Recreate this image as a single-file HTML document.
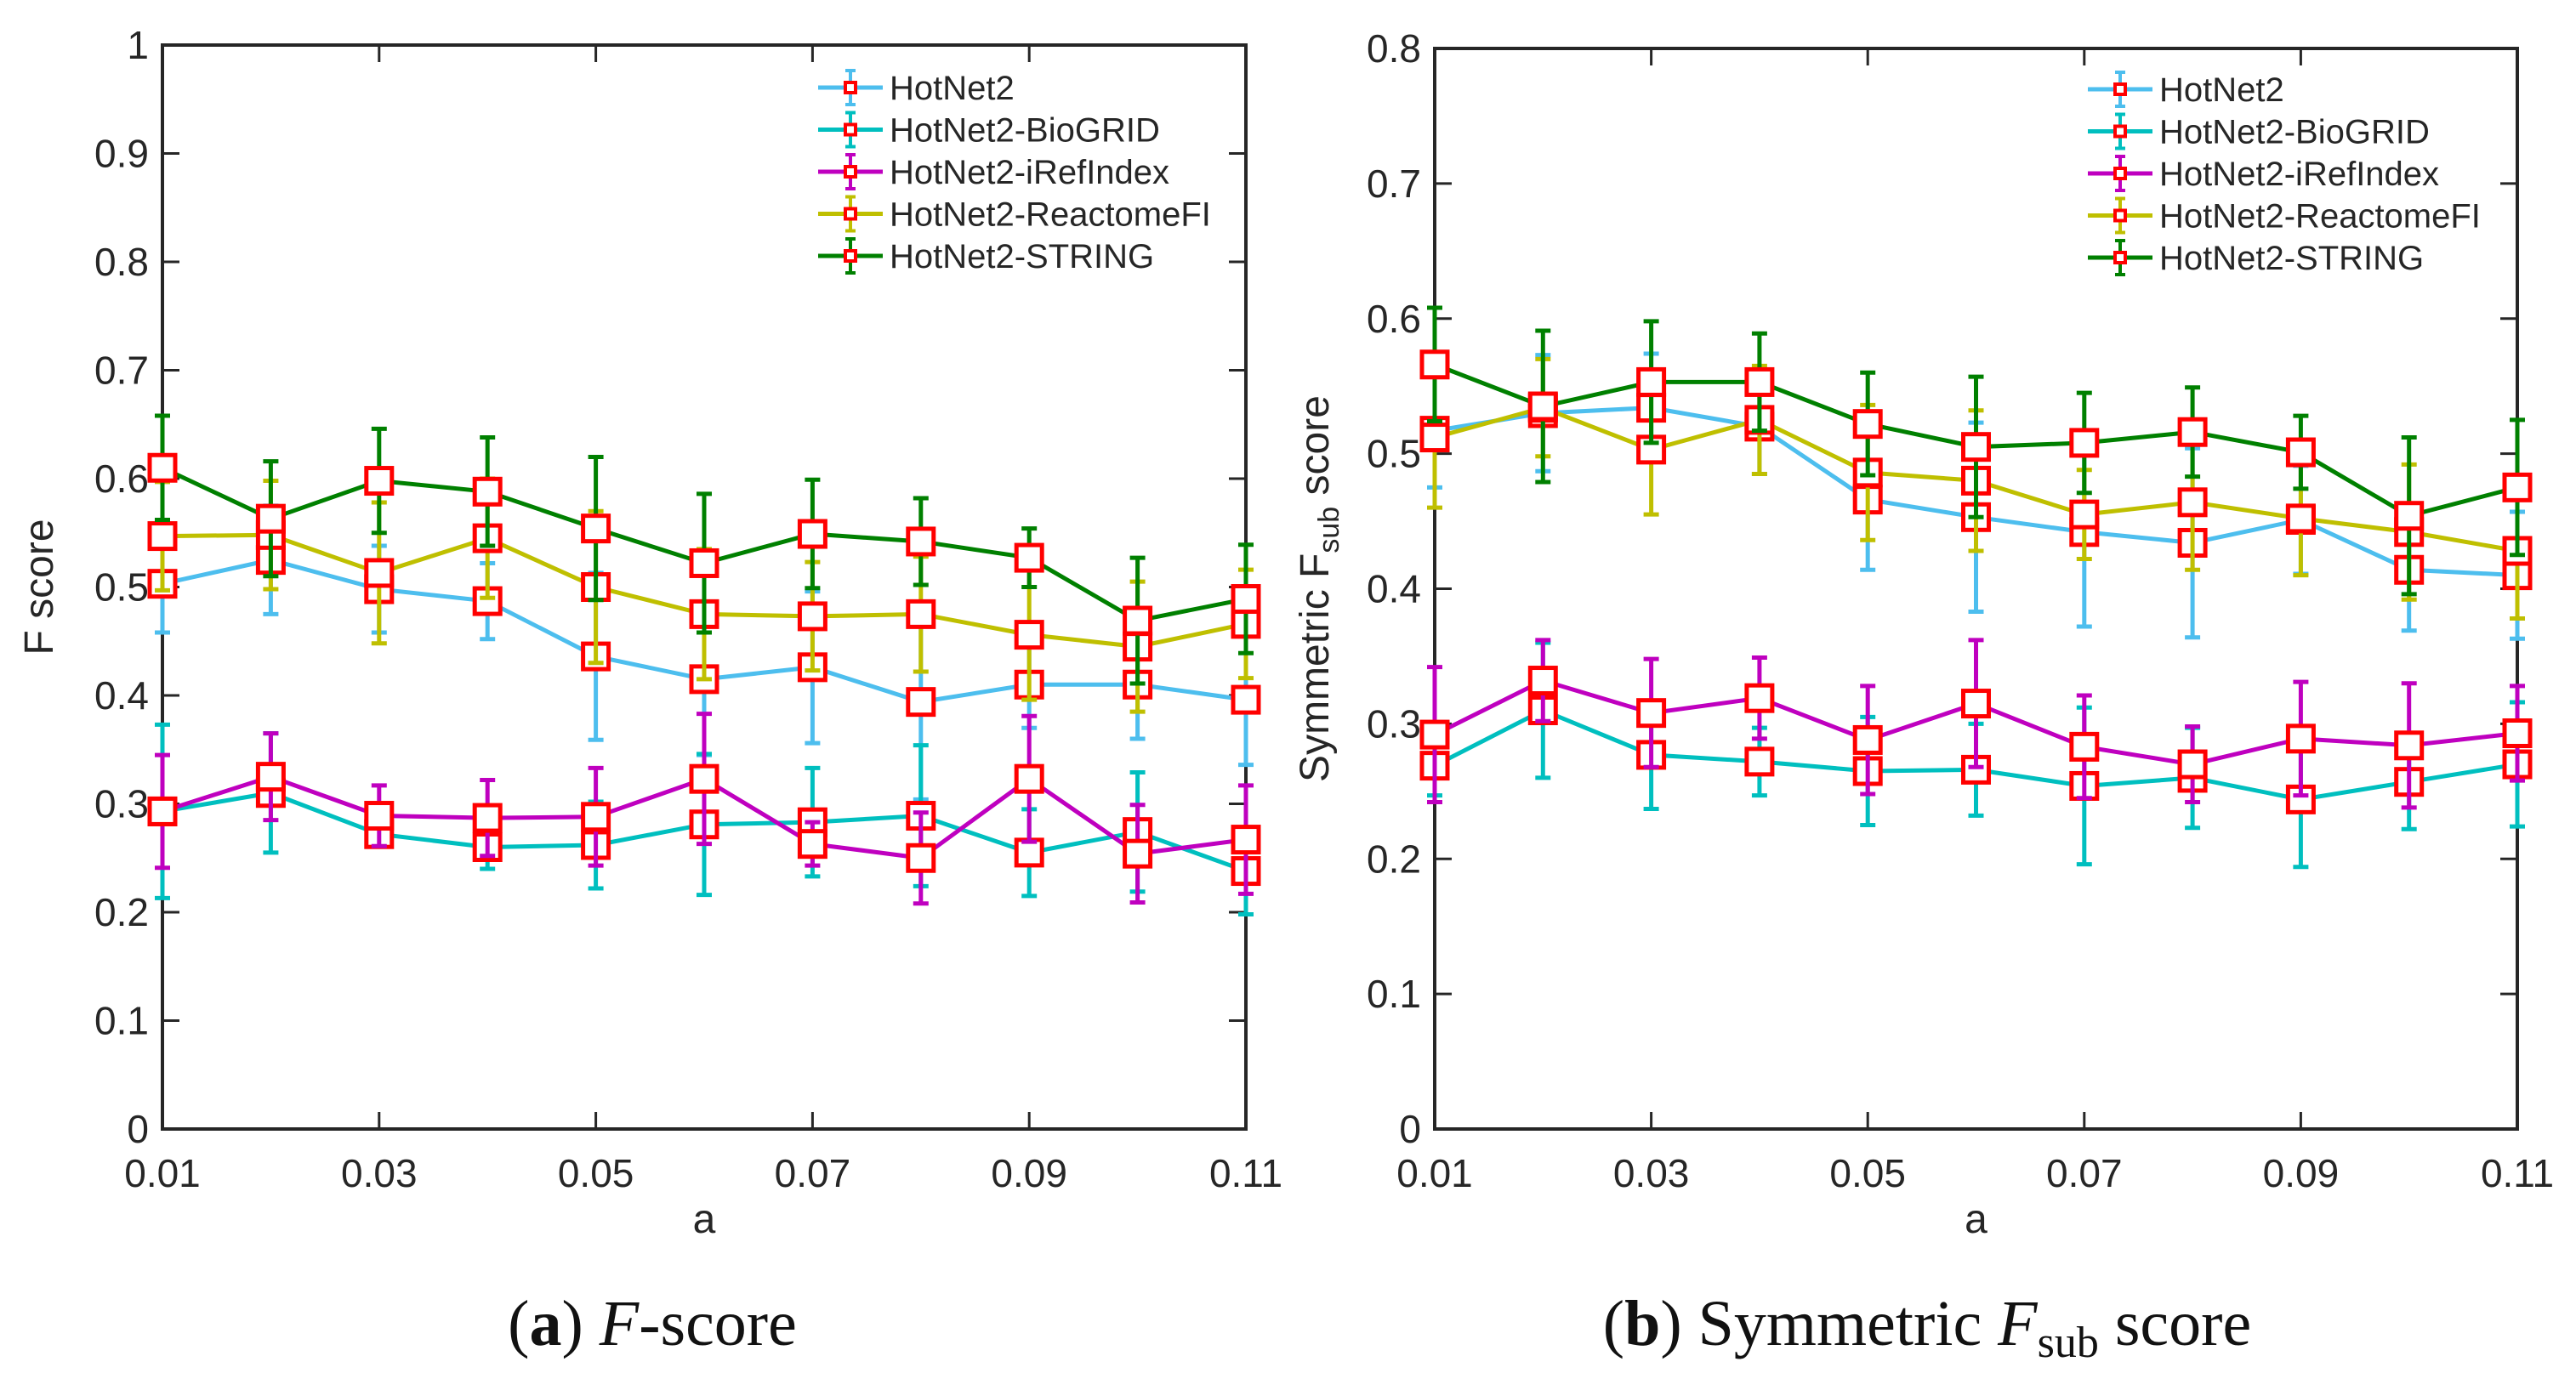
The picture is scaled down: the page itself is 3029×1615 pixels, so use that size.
<!DOCTYPE html>
<html><head><meta charset="utf-8"><style>
html,body{margin:0;padding:0;background:#fff}
svg{display:block}
</style></head><body>
<svg id="fig" width="3029" height="1615" xmlns="http://www.w3.org/2000/svg" font-family="Liberation Sans, sans-serif">
<text x="767" y="1582" text-anchor="middle" font-family="Liberation Serif, serif" font-size="76" fill="#111">(<tspan font-weight="bold">a</tspan>) <tspan font-style="italic">F</tspan>-score</text>
<text x="2266" y="1582" text-anchor="middle" font-family="Liberation Serif, serif" font-size="76" fill="#111">(<tspan font-weight="bold">b</tspan>) Symmetric <tspan font-style="italic">F</tspan><tspan font-size="52" dy="14">sub</tspan><tspan dy="-14"> score</tspan></text>
</svg>
<script>
const xVals=[0.01,0.02,0.03,0.04,0.05,0.06,0.07,0.08,0.09,0.10,0.11];
const xTicks=[0.01,0.03,0.05,0.07,0.09,0.11];
const xTickLabels=["0.01","0.03","0.05","0.07","0.09","0.11"];
const seriesNames=["HotNet2","HotNet2-BioGRID","HotNet2-iRefIndex","HotNet2-ReactomeFI","HotNet2-STRING"];
const yTicksA=[0,0.1,0.2,0.3,0.4,0.5,0.6,0.7,0.8,0.9,1];
const yTickLabelsA=["0","0.1","0.2","0.3","0.4","0.5","0.6","0.7","0.8","0.9","1"];
const yTicksB=[0,0.1,0.2,0.3,0.4,0.5,0.6,0.7,0.8];
const yTickLabelsB=["0","0.1","0.2","0.3","0.4","0.5","0.6","0.7","0.8"];
// Panel A values
const aHotNet2=[0.503,0.525,0.498,0.487,0.436,0.415,0.426,0.394,0.41,0.41,0.396];
const aHotNet2Err=[0.045,0.05,0.04,0.035,0.077,0.07,0.07,0.09,0.04,0.05,0.06];
const aBioGRID=[0.293,0.31,0.272,0.26,0.262,0.281,0.283,0.289,0.255,0.274,0.238];
const aBioGRIDErr=[0.08,0.055,0.01,0.02,0.04,0.065,0.05,0.065,0.04,0.055,0.04];
const aIRef=[0.293,0.325,0.289,0.287,0.288,0.323,0.263,0.25,0.323,0.254,0.267];
const aIRefErr=[0.052,0.04,0.028,0.035,0.045,0.06,0.02,0.042,0.058,0.045,0.05];
const aReactome=[0.547,0.548,0.513,0.545,0.5,0.475,0.473,0.475,0.456,0.445,0.466];
const aReactomeErr=[0.05,0.05,0.065,0.055,0.07,0.06,0.05,0.053,0.06,0.06,0.05];
const aString=[0.61,0.563,0.598,0.588,0.554,0.522,0.549,0.542,0.527,0.469,0.489];
const aStringErr=[0.048,0.053,0.048,0.05,0.066,0.064,0.05,0.04,0.027,0.058,0.05];
// Panel B values
const bHotNet2=[0.517,0.53,0.534,0.52,0.466,0.453,0.442,0.434,0.451,0.414,0.41];
const bHotNet2Err=[0.042,0.043,0.04,0.035,0.052,0.07,0.07,0.07,0.04,0.045,0.047];
const bBioGRID=[0.269,0.31,0.277,0.272,0.265,0.266,0.254,0.26,0.244,0.257,0.27];
const bBioGRIDErr=[0.022,0.05,0.04,0.025,0.04,0.034,0.058,0.037,0.05,0.035,0.046];
const bIRef=[0.292,0.332,0.308,0.319,0.288,0.315,0.283,0.27,0.289,0.284,0.293];
const bIRefErr=[0.05,0.03,0.04,0.03,0.04,0.047,0.038,0.028,0.042,0.046,0.035];
const bReactome=[0.512,0.534,0.503,0.525,0.486,0.48,0.455,0.464,0.452,0.442,0.428];
const bReactomeErr=[0.052,0.036,0.048,0.04,0.05,0.052,0.033,0.05,0.042,0.05,0.05];
const bString=[0.566,0.535,0.553,0.553,0.522,0.505,0.508,0.516,0.501,0.454,0.475];
const bStringErr=[0.042,0.056,0.045,0.036,0.038,0.052,0.037,0.033,0.027,0.058,0.05];

const colors=["#4DBEEE","#00BFBF","#BF00BF","#BFBF00","#008000"];
const NS="http://www.w3.org/2000/svg";
const svg=document.getElementById('fig');
function mk(tag,attrs,parent){const e=document.createElementNS(NS,tag);for(const k in attrs)e.setAttribute(k,attrs[k]);(parent||svg).appendChild(e);return e;}

function panel(id,L,R,T,B,yMax,yTicks,yLabels,series,errs,yTitle,legX,legY){
  const g=mk('g',{});
  
  
  const sx=v=>L+(v-0.01)/0.10*(R-L);
  const sy=v=>B-v/yMax*(B-T);
  yTicks.forEach((t,i)=>{
    const y=sy(t);
    const l1=mk('line',{x1:L,x2:L+20,y1:y,y2:y,stroke:'#262626','stroke-width':3},g);
    
    
    mk('line',{x1:R,x2:R-20,y1:y,y2:y,stroke:'#262626','stroke-width':3},g);
    const tx=mk('text',{x:L-16,y:y+16,'text-anchor':'end','font-size':46,fill:'#262626'},g);
    tx.textContent=yLabels[i];
    
    
  });
  xTicks.forEach((t,i)=>{
    const x=sx(t);
    mk('line',{x1:x,x2:x,y1:B,y2:B-20,stroke:'#262626','stroke-width':3},g);
    mk('line',{x1:x,x2:x,y1:T,y2:T+20,stroke:'#262626','stroke-width':3},g);
    const tx=mk('text',{x:x,y:B+68,'text-anchor':'middle','font-size':46,fill:'#262626'},g);
    tx.textContent=xTickLabels[i];
    
    
  });
  const frame=mk('rect',{x:L,y:T,width:R-L,height:B-T,fill:'none',stroke:'#262626','stroke-width':4},g);
  
  
  const xl=mk('text',{x:(L+R)/2,y:B+122,'text-anchor':'middle','font-size':48,fill:'#262626'},g);
  xl.textContent='a';
  
  
  const yt=mk('text',{x:0,y:0,'text-anchor':'middle','font-size':48,fill:'#262626',transform:`translate(${yTitle.x},${(T+B)/2}) rotate(-90)`},g);
  
  
  if(yTitle.sub){yt.innerHTML='Symmetric F<tspan font-size="34" dy="12">sub</tspan><tspan dy="-12"> score</tspan>';}
  else yt.textContent=yTitle.text;
  series.forEach((vals,si)=>{
    const sg=mk('g',{},g);
    
    
    const c=colors[si];
    vals.forEach((v,i)=>{
      const x=sx(xVals[i]),e=errs[si][i];
      const y1=sy(v+e),y2=sy(v-e);
      const eb=mk('path',{d:`M${x},${y1}V${y2}M${x-9},${y1}H${x+9}M${x-9},${y2}H${x+9}`,stroke:c,'stroke-width':5,fill:'none'},sg);
      
      
    });
    const pl=mk('polyline',{points:vals.map((v,i)=>sx(xVals[i])+','+sy(v)).join(' '),fill:'none',stroke:c,'stroke-width':5},sg);
    
    
    vals.forEach((v,i)=>{
      const m=mk('rect',{x:sx(xVals[i])-15,y:sy(v)-15,width:30,height:30,fill:'#fff',stroke:'#FF0000','stroke-width':5},sg);
      
      
    });
  });
  const lg=mk('g',{},g);
  
  
  seriesNames.forEach((n,i)=>{
    const y=legY+i*49.5;
    const eg=mk('g',{},lg);
    
    
    const mx=legX+38;
    mk('line',{x1:legX,x2:legX+76,y1:y,y2:y,stroke:colors[i],'stroke-width':5},eg);
    mk('path',{d:`M${mx},${y-20}V${y+20}M${mx-6},${y-20}H${mx+6}M${mx-6},${y+20}H${mx+6}`,stroke:colors[i],'stroke-width':4},eg);
    mk('rect',{x:mx-6,y:y-6,width:12,height:12,fill:'#fff',stroke:'#f00','stroke-width':4},eg);
    const t=mk('text',{x:legX+84,y:y+14,'font-size':40,fill:'#262626'},eg);
    t.textContent=n;
  });
}
panel('f-score',191,1465,53,1328,1,yTicksA,yTickLabelsA,
  [aHotNet2,aBioGRID,aIRef,aReactome,aString],[aHotNet2Err,aBioGRIDErr,aIRefErr,aReactomeErr,aStringErr],
  {x:62,text:'F score'},962,103);
panel('fsub-score',1687,2960,57,1328,0.8,yTicksB,yTickLabelsB,
  [bHotNet2,bBioGRID,bIRef,bReactome,bString],[bHotNet2Err,bBioGRIDErr,bIRefErr,bReactomeErr,bStringErr],
  {x:1562,sub:true},2455,105);
</script>
</body></html>
